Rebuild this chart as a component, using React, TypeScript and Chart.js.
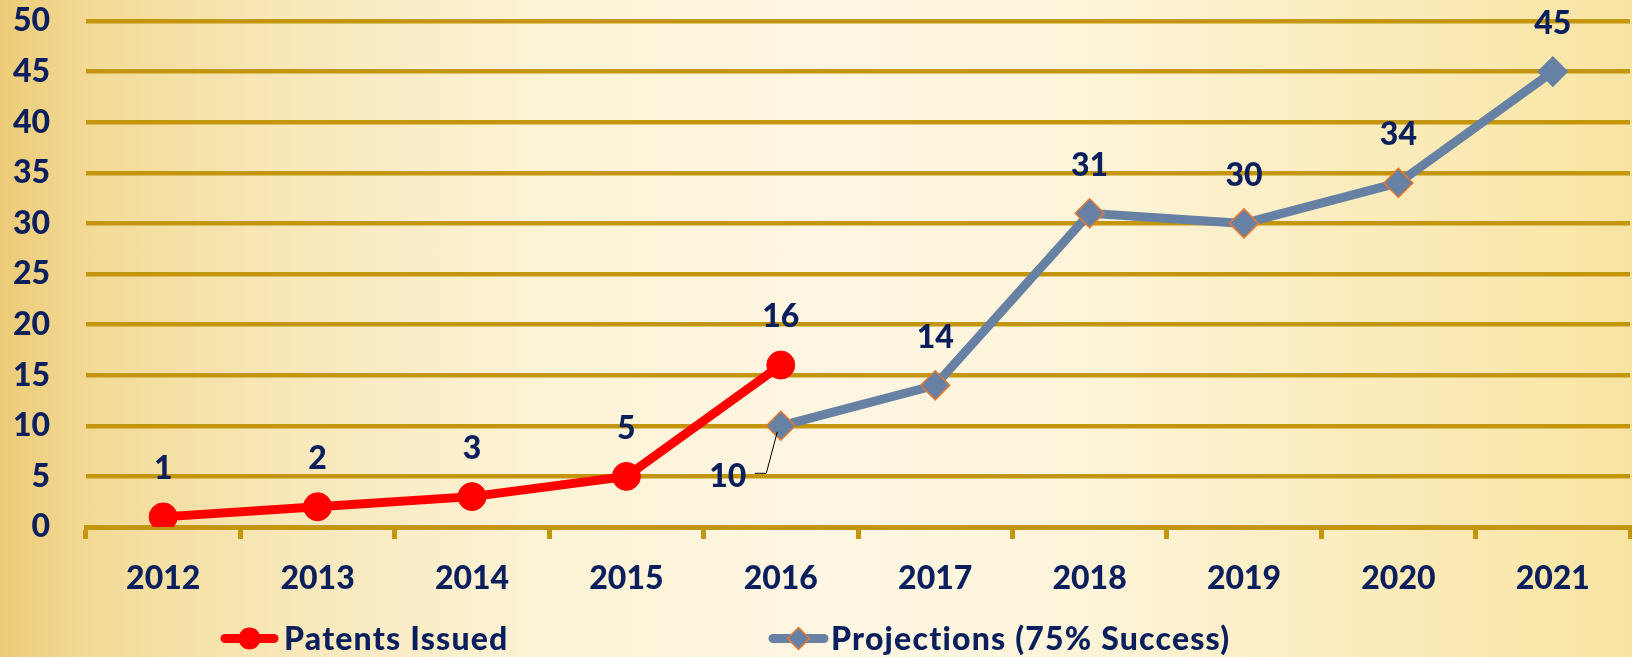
import React, { useEffect, useRef } from 'react';
import { Chart, registerables } from 'chart.js';

Chart.register(...registerables);

// ---- data ----
const years = ['2012', '2013', '2014', '2015', '2016', '2017', '2018', '2019', '2020', '2021'];
const patentsIssued = [1, 2, 3, 5, 16, null, null, null, null, null];
const projections = [null, null, null, null, 10, 14, 31, 30, 34, 45];
const seriesNames = ['Patents Issued', 'Projections (75% Success)'];
const yMin = 0;
const yMax = 50;
const yStep = 5;

// ---- styles ----
const NAVY = '#0B1F5C';
const GOLD = '#C4960E';
const RED = '#FF0000';
const SLATE = '#6681A3';
const ORANGE = '#E8772E';
const FONT = 'Lato, "Open Sans", "DejaVu Sans", sans-serif';
const WEIGHT = '900';

const valueLabels = {
  id: 'valueLabels',
  afterDatasetsDraw(chart: any) {
    const ctx = chart.ctx;
    ctx.save();
    ctx.font = `${WEIGHT} 32px ${FONT}`;
    ctx.fillStyle = NAVY;
    ctx.textAlign = 'center';
    ctx.textBaseline = 'middle';
    chart.data.datasets.forEach((ds: any, di: number) => {
      const meta = chart.getDatasetMeta(di);
      meta.data.forEach((pt: any, i: number) => {
        const v = ds.data[i];
        if (v == null) return;
        if (di === 1 && i === 4) {
          // label placed below-left with a leader line
          ctx.fillText(String(v), pt.x - 53, pt.y + 51);
          ctx.save();
          ctx.strokeStyle = '#000000';
          ctx.lineWidth = 1;
          ctx.beginPath();
          ctx.moveTo(pt.x - 26, pt.y + 47.5);
          ctx.lineTo(pt.x - 14.5, pt.y + 47.5);
          ctx.lineTo(pt.x - 3.5, pt.y + 6);
          ctx.stroke();
          ctx.restore();
        } else {
          ctx.fillText(String(v), pt.x, pt.y - 48);
        }
      });
    });
    ctx.restore();
  },
};

const bottomLegend = {
  id: 'bottomLegend',
  afterDraw(chart: any) {
    const ctx = chart.ctx;
    const y = 638.5;
    const items = [
      { x0: 221, x1: 278, tx: 284 },
      { x0: 769, x1: 828, tx: 831 },
    ];
    ctx.save();
    chart.data.datasets.forEach((ds: any, di: number) => {
      const it = items[di];
      const cx = (it.x0 + it.x1) / 2;
      ctx.strokeStyle = ds.borderColor;
      ctx.lineWidth = 9;
      ctx.lineCap = 'round';
      ctx.beginPath();
      ctx.moveTo(it.x0 + 4, y);
      ctx.lineTo(it.x1 - 4, y);
      ctx.stroke();
      ctx.lineCap = 'butt';
      ctx.beginPath();
      if (di === 0) {
        ctx.arc(cx, y, 11, 0, Math.PI * 2);
        ctx.fillStyle = ds.borderColor;
        ctx.fill();
      } else {
        ctx.moveTo(cx - 11, y);
        ctx.lineTo(cx, y - 11);
        ctx.lineTo(cx + 11, y);
        ctx.lineTo(cx, y + 11);
        ctx.closePath();
        ctx.fillStyle = ds.borderColor;
        ctx.fill();
        ctx.strokeStyle = ORANGE;
        ctx.lineWidth = 1.5;
        ctx.stroke();
      }
      ctx.font = `${WEIGHT} 32px ${FONT}`;
      ctx.fillStyle = NAVY;
      ctx.textAlign = 'left';
      ctx.textBaseline = 'middle';
      try {
        (ctx as any).letterSpacing = '1.2px';
      } catch (e) {
        /* ignore */
      }
      ctx.fillText(ds.label, it.tx, y + 1);
      try {
        (ctx as any).letterSpacing = '0px';
      } catch (e) {
        /* ignore */
      }
    });
    ctx.restore();
  },
};

export default function App() {
  const ref = useRef<HTMLCanvasElement | null>(null);

  useEffect(() => {
    if (!ref.current) return;
    const chart = new Chart(ref.current, {
      type: 'line',
      data: {
        labels: years,
        datasets: [
          {
            label: seriesNames[0],
            data: patentsIssued,
            borderColor: RED,
            backgroundColor: RED,
            borderWidth: 9,
            pointRadius: 14,
            pointHoverRadius: 14,
            pointStyle: 'circle',
            pointBackgroundColor: RED,
            pointBorderColor: RED,
            pointBorderWidth: 1,
            tension: 0,
            spanGaps: false,
          },
          {
            label: seriesNames[1],
            data: projections,
            borderColor: SLATE,
            backgroundColor: SLATE,
            borderWidth: 9,
            pointRadius: 14.5,
            pointHoverRadius: 14.5,
            pointStyle: 'rectRot',
            pointBackgroundColor: SLATE,
            pointBorderColor: [ORANGE, ORANGE, ORANGE, ORANGE, ORANGE, ORANGE, ORANGE, ORANGE, ORANGE, SLATE],
            pointBorderWidth: 1.5,
            tension: 0,
            spanGaps: false,
          },
        ],
      },
      options: {
        animation: false,
        responsive: false,
        maintainAspectRatio: false,
        events: [],
        layout: { autoPadding: false, padding: { top: 21, right: 2, bottom: 50, left: 0 } },
        plugins: {
          legend: { display: false },
          tooltip: { enabled: false },
        },
        scales: {
          x: {
            type: 'category',
            offset: true,
            grid: {
              display: true,
              drawOnChartArea: false,
              drawTicks: true,
              tickLength: 12,
              color: GOLD,
              lineWidth: 5,
              offset: true,
            },
            border: { display: true, color: GOLD, width: 5 },
            ticks: {
              color: NAVY,
              font: { family: FONT, size: 32, weight: WEIGHT },
              padding: 20,
              maxRotation: 0,
              autoSkip: false,
            },
            afterFit: (s: any) => {
              s.height = 80;
              s.paddingLeft = 0;
              s.paddingRight = 0;
            },
          },
          y: {
            min: yMin,
            max: yMax,
            ticks: {
              stepSize: yStep,
              color: NAVY,
              font: { family: FONT, size: 32, weight: WEIGHT },
              padding: 36,
            },
            grid: { color: GOLD, lineWidth: 4.5, drawTicks: false },
            border: { display: false },
            afterFit: (s: any) => {
              s.width = 86;
              s.paddingTop = 0;
              s.paddingBottom = 0;
            },
          },
        },
      },
      plugins: [valueLabels, bottomLegend],
    });
    return () => chart.destroy();
  }, []);

  return (
    <div
      style={{
        position: 'fixed',
        left: 0,
        top: 0,
        width: 1632,
        height: 657,
        background:
          'linear-gradient(90deg, #ECCB78 0%, #F3DB98 6%, #F8E8BA 18%, #FCF2D4 32%, #FEF6E2 50%, #FDF4DA 66%, #FBECBC 84%, #F8E4A2 100%)',
      }}
    >
      <canvas
        ref={ref}
        width={1632}
        height={657}
        style={{ display: 'block', position: 'absolute', left: 0, top: 0, width: 1632, height: 657 }}
      />
    </div>
  );
}
